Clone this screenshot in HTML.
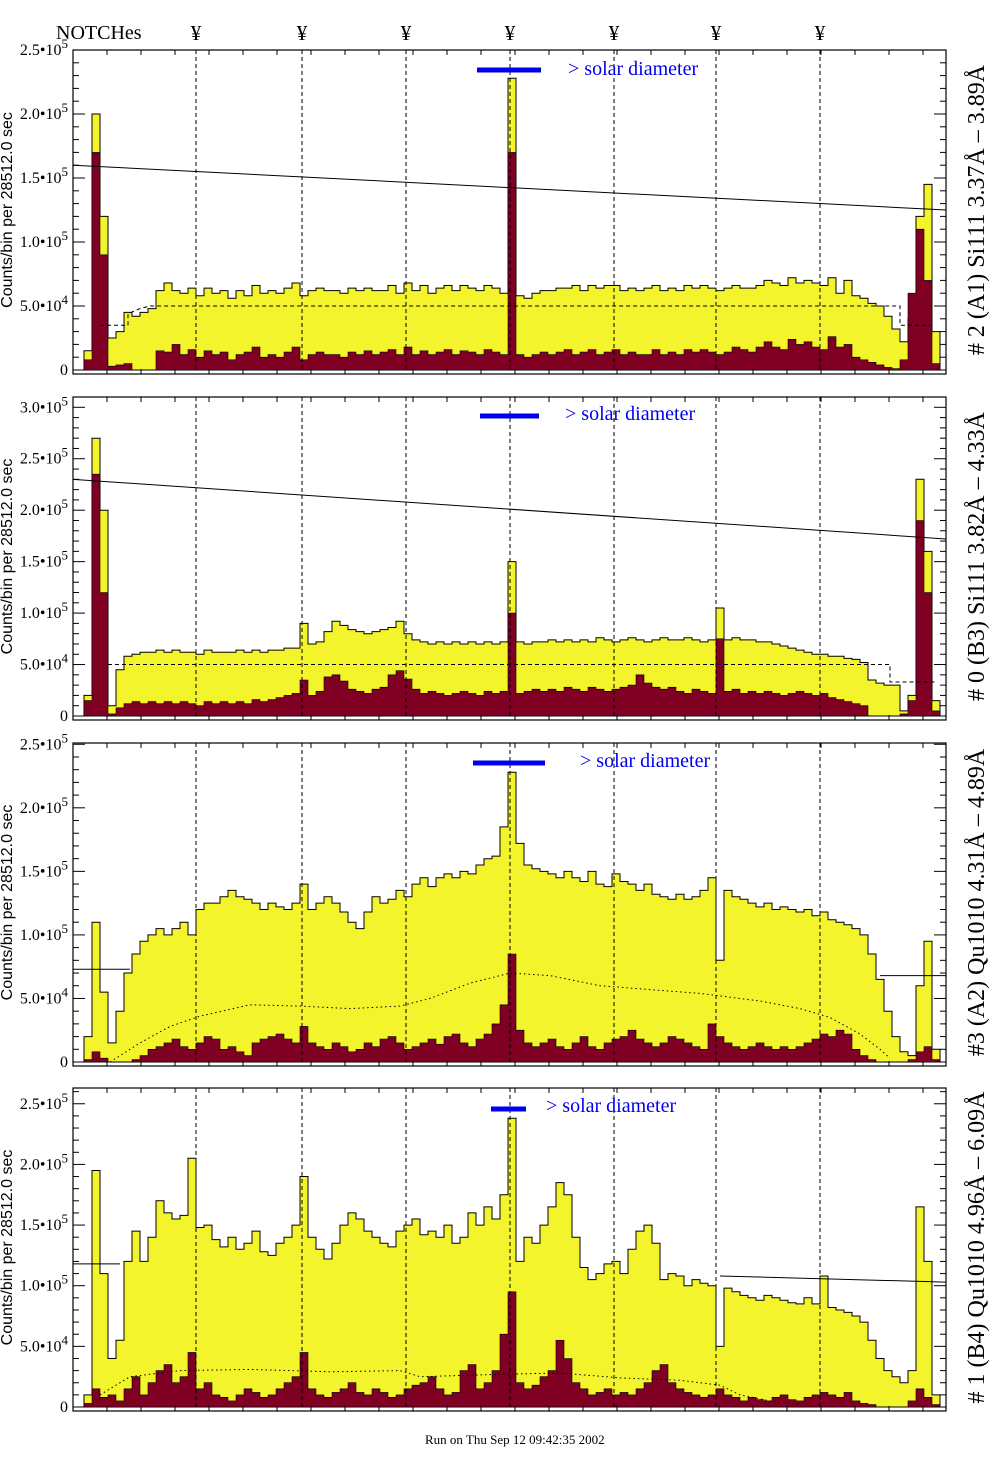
<!DOCTYPE html>
<html><head><meta charset="utf-8">
<style>
body{margin:0;background:#fff;}
svg{display:block;font-family:"Liberation Serif",serif;}
</style></head>
<body>
<svg id="chart" width="1004" height="1477" viewBox="0 0 1004 1477" xmlns="http://www.w3.org/2000/svg">
<rect x="0" y="0" width="1004" height="1477" fill="#fff"/>
<text x="56" y="39" font-size="20">NOTCHes</text>
<text x="425" y="1444" font-size="13">Run on Thu Sep 12 09:42:35 2002</text>
</svg>
<script>
const notchX = [196, 302, 406, 510, 614, 716, 820];
const yTickValues = [0, 50, 100, 150, 200, 250, 300];
const yTickMant = ["0", "5.0", "1.0", "1.5", "2.0", "2.5", "3.0"];
const yTickExp = ["", "4", "5", "5", "5", "5", "5"];

const p1Yellow = [15,200,120,25,30,45,42,45,48,62,68,62,60,64,58,64,60,62,56,62,58,66,60,62,60,64,68,58,62,64,62,62,60,64,62,64,62,62,66,60,68,62,66,60,64,66,62,66,64,62,66,64,60,228,58,56,60,62,62,64,64,66,62,66,64,66,66,62,64,62,64,66,62,64,62,66,64,66,64,62,64,66,64,64,66,70,68,66,72,68,70,68,66,72,60,70,58,56,52,50,42,32,22,40,120,145,30];
const p1Red = [8,170,90,3,4,5,0,0,0,15,14,20,12,16,10,15,12,14,8,12,14,18,10,12,10,14,18,8,12,14,12,12,10,14,12,15,12,14,16,12,18,12,15,12,14,16,12,15,14,12,16,14,12,170,12,10,12,14,12,14,16,12,14,16,12,14,16,12,14,12,12,16,12,14,12,16,14,16,14,12,14,18,16,14,18,22,18,16,24,20,22,18,16,26,18,20,10,8,6,4,2,1,8,60,110,70,5];
const p2Yellow = [20,270,200,10,45,58,60,62,62,64,62,64,62,62,60,64,62,62,62,64,62,64,62,64,64,66,66,90,70,72,82,92,88,84,82,80,82,84,86,92,80,74,72,70,72,70,72,70,72,70,72,70,72,150,72,70,72,72,74,72,74,72,74,72,76,74,72,74,76,74,72,74,76,74,74,76,74,72,74,105,74,76,74,74,72,72,70,68,66,64,62,60,60,58,58,56,55,52,35,32,30,30,5,20,230,160,15];
const p2Red = [15,235,120,2,8,12,14,12,14,12,14,12,14,12,10,14,12,14,12,14,12,16,14,16,18,20,22,35,20,24,38,40,34,26,24,22,26,28,40,44,36,26,22,24,22,20,22,24,22,20,24,22,24,100,22,24,26,24,26,24,28,26,24,28,26,24,26,28,30,40,32,28,26,28,24,22,26,24,22,75,24,26,22,24,22,24,22,20,22,24,22,20,22,18,16,14,12,10,0,0,0,0,2,15,190,120,5];
const p3Yellow = [20,110,55,15,40,70,85,95,100,105,100,105,110,100,120,125,125,130,135,130,128,125,120,125,122,120,125,140,120,125,130,125,118,110,105,118,130,125,128,135,130,140,145,138,145,148,145,150,148,155,160,162,185,228,172,155,152,150,148,145,150,145,142,150,140,138,148,142,140,135,140,132,130,128,132,128,130,135,145,80,135,130,128,125,122,125,120,122,120,118,120,115,118,112,110,108,105,100,85,65,40,20,8,5,60,95,10];
const p3Red = [2,8,3,0,0,0,2,5,10,12,15,18,12,10,15,20,18,10,12,8,5,15,18,20,22,18,15,28,15,12,10,15,12,8,10,15,12,18,20,15,10,12,15,18,14,20,22,15,12,18,22,30,45,85,25,15,12,15,18,12,10,15,20,12,10,15,18,20,25,18,15,12,15,20,18,15,12,10,30,20,15,12,10,12,15,12,10,12,10,12,15,18,22,20,25,22,10,5,2,0,0,0,0,2,8,12,2];
const p4Yellow = [10,195,110,40,55,120,145,120,140,170,160,155,158,205,148,150,138,132,140,130,135,145,128,125,135,140,150,190,140,130,122,135,150,160,155,145,140,135,132,145,150,155,142,145,140,150,135,140,160,150,165,155,175,238,120,140,135,150,165,185,175,140,115,105,110,118,120,110,130,145,150,135,105,110,108,100,105,102,100,50,98,95,92,90,88,92,90,88,86,85,90,85,108,82,80,78,75,70,55,40,30,25,20,30,165,120,10];
const p4Red = [3,15,8,10,5,15,25,10,20,30,35,20,25,45,15,20,10,8,5,10,15,12,8,10,15,20,25,45,15,10,8,12,15,20,12,10,15,12,8,10,15,18,20,25,15,10,12,30,35,15,20,30,60,95,20,15,18,25,30,55,40,20,15,10,12,15,10,12,10,15,20,30,35,20,15,12,10,8,10,15,10,8,5,8,6,5,8,10,6,5,8,10,12,10,8,12,5,3,2,0,0,0,0,5,15,8,2];

const NS = "http://www.w3.org/2000/svg";
const svg = document.getElementById("chart");
function mk(tag, attrs, parent) {
  const e = document.createElementNS(NS, tag);
  for (const k in attrs) e.setAttribute(k, attrs[k]);
  (parent || svg).appendChild(e);
  return e;
}
const X0 = 84, BW = 8, FL = 73, FR = 946;
function xScale(i) { return X0 + BW * i; }

notchX.forEach((nx, k) => {
  const t = mk("text", {x: nx, y: 40, "font-size": 21, "text-anchor": "middle"});
  t.textContent = "¥";
  
  
});

const panels = [
  {top: 50, zero: 370, max: 250, yel: p1Yellow, red: p1Red, nTicks: 6, title: "# 2 (A1) Si111  3.37Å – 3.89Å",
   line: [[73, 160], [946, 125]], dash: [[100,35],[128,35],[128,44],[140,48],[150,50],[900,50],[900,35],[930,35]], dotted: false,
   bar: [477, 541, 70], label: [568, 75]},
  {top: 397, zero: 716, max: 310, yel: p2Yellow, red: p2Red, nTicks: 7, title: "# 0 (B3) Si111  3.82Å – 4.33Å",
   line: [[73, 230], [946, 172]], dash: [[108,50],[890,50],[890,33],[935,33]], dotted: false,
   bar: [480, 539, 416], label: [565, 420]},
  {top: 743, zero: 1062, max: 251, yel: p3Yellow, red: p3Red, nTicks: 6, title: "#3 (A2) Qu1010  4.31Å – 4.89Å",
   line: null, seg: [[[73,73],[130,73]], [[880,68],[946,68]]],
   dash: [[110,0],[140,15],[170,28],[200,36],[250,45],[300,44],[350,42],[400,44],[430,50],[470,62],[510,70],[550,68],[600,60],[650,57],[700,54],[760,48],[800,42],[830,35],[860,22],[880,10],[890,3]], dotted: true,
   bar: [473, 545, 763], label: [580, 767]},
  {top: 1088, zero: 1407, max: 263, yel: p4Yellow, red: p4Red, nTicks: 6, title: "# 1 (B4) Qu1010 4.96Å – 6.09Å",
   line: null, seg: [[[73,118],[120,118]], [[720,108],[946,103]]],
   dash: [[100,10],[130,25],[180,30],[250,31],[330,29],[400,30],[420,25],[500,27],[560,28],[620,24],[680,22],[720,18],[740,10],[770,5],[800,2]], dotted: true,
   bar: [491, 526, 1109], label: [546, 1112]}
];

panels.forEach((p, pi) => {
  const sc = (p.zero - p.top) / p.max;
  const yScale = v => p.zero - v * sc;
  const g = mk("g", {});
  
  

  function stepPath(vals) {
    let d = "M" + xScale(0) + "," + p.zero;
    vals.forEach((v, i) => {
      const y = Math.max(p.top, yScale(v)).toFixed(1);
      d += " L" + xScale(i) + "," + y + " L" + xScale(i + 1) + "," + y;
    });
    d += " L" + xScale(vals.length) + "," + p.zero + " Z";
    return d;
  }
  const yel = mk("path", {d: stepPath(p.yel), fill: "#f4f42c", stroke: "#000", "stroke-width": 1}, g);
  
  
  const red = mk("path", {d: stepPath(p.red), fill: "#7f0022", stroke: "#000", "stroke-width": 0.6}, g);
  
  

  notchX.forEach(nx => {
    const l = mk("line", {x1: nx, x2: nx, y1: p.top, y2: p.zero, stroke: "#000", "stroke-width": 1, "stroke-dasharray": "4,3"}, g);
    
    
  });

  if (p.line) {
    const l = mk("line", {x1: p.line[0][0], y1: yScale(p.line[0][1]), x2: p.line[1][0], y2: yScale(p.line[1][1]), stroke: "#000", "stroke-width": 1}, g);
    
    
  }
  if (p.seg) p.seg.forEach(s => {
    const l = mk("line", {x1: s[0][0], y1: yScale(s[0][1]), x2: s[1][0], y2: yScale(s[1][1]), stroke: "#000", "stroke-width": 1}, g);
    
    
  });
  const dl = mk("polyline", {points: p.dash.map(q => q[0] + "," + yScale(q[1]).toFixed(1)).join(" "), fill: "none", stroke: "#000", "stroke-width": 1, "stroke-dasharray": p.dotted ? "1.5,3" : "4,3"}, g);
  
  

  const fr = mk("rect", {x: FL, y: p.top, width: FR - FL, height: p.zero - p.top + 4, fill: "none", stroke: "#000", "stroke-width": 1.2}, g);
  
  

  for (let v = 0; v <= p.max; v += 10) {
    const y = yScale(v);
    const major = v % 50 === 0;
    mk("line", {x1: FL, x2: FL + (major ? 12 : 6), y1: y, y2: y, stroke: "#000", "stroke-width": 1}, g);
    mk("line", {x1: FR, x2: FR - (major ? 12 : 6), y1: y, y2: y, stroke: "#000", "stroke-width": 1}, g);
  }
  for (let x = FL + 34; x < FR; x += 34) {
    mk("line", {x1: x, x2: x, y1: p.top, y2: p.top + 5, stroke: "#000", "stroke-width": 1}, g);
    mk("line", {x1: x, x2: x, y1: p.zero + 4, y2: p.zero - 1, stroke: "#000", "stroke-width": 1}, g);
  }
  for (let k = 0; k < p.nTicks; k++) {
    const t = mk("text", {x: 68, y: yScale(yTickValues[k]) + 5, "font-size": 16, "text-anchor": "end"}, g);
    
    
    if (k === 0) { t.textContent = "0"; continue; }
    const a = document.createElementNS(NS, "tspan"); a.textContent = yTickMant[k] + "•10"; t.appendChild(a);
    const b = document.createElementNS(NS, "tspan"); b.setAttribute("dy", -7); b.setAttribute("font-size", 13); b.textContent = yTickExp[k]; t.appendChild(b);
  }

  const cy = (p.top + p.zero) / 2;
  const yt = mk("text", {x: 0, y: 0, "font-size": 16, "text-anchor": "middle", transform: "translate(12," + cy + ") rotate(-90)", "font-family": "Liberation Sans, sans-serif"}, g);
  yt.textContent = "Counts/bin per  28512.0 sec";
  
  

  const rt = mk("text", {x: 0, y: 0, "font-size": 24, "text-anchor": "middle", transform: "translate(984," + cy + ") rotate(-90)"}, g);
  rt.textContent = p.title;
  
  

  const bar = mk("line", {x1: p.bar[0], x2: p.bar[1], y1: p.bar[2], y2: p.bar[2], stroke: "#0000ee", "stroke-width": 5}, g);
  
  
  const lt = mk("text", {x: p.label[0], y: p.label[1], "font-size": 20, fill: "#0000ee"}, g);
  lt.textContent = "> solar diameter";
  
  
});
</script>
</body></html>
